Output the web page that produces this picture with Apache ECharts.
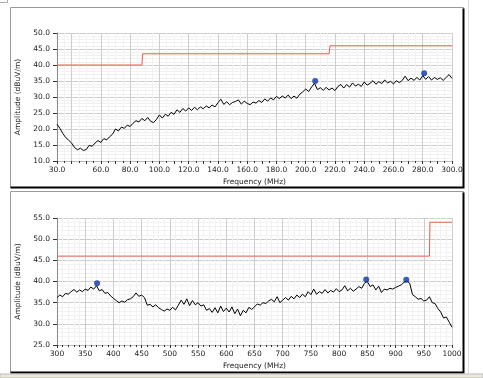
<!DOCTYPE html>
<html>
<head>
<meta charset="utf-8">
<title>Amplitude vs Frequency</title>
<script src="https://cdn.jsdelivr.net/npm/echarts@6/dist/echarts.min.js"></script>
<style>
  html, body { margin: 0; padding: 0; background: #fff; }
  #main { width: 483px; height: 378px; }
</style>
</head>
<body>
<div id="main"></div>
<script>
// sweep grid (MHz) of the two scans
const topStart = 30
const topStep = 2
const bottomStart = 300
const bottomStep = 5

// measured amplitude (dBuV/m), 30 - 300 MHz
const topValues = [
  21.5, 20.2, 18.6, 17.3, 16.5, 15.6, 14.2, 13.5, 14.0, 13.3,
  13.6, 14.9, 14.6, 15.6, 16.4, 15.8, 17.0, 16.6, 17.6, 18.4,
  20.0, 19.4, 20.6, 20.2, 21.2, 20.8, 21.8, 22.6, 22.2, 23.3,
  22.6, 23.6, 22.4, 22.0, 23.0, 24.4, 23.4, 24.6, 24.0, 25.2,
  24.6, 26.0, 25.2, 26.4, 25.6, 26.6, 25.8, 26.8, 26.0, 26.9,
  26.3, 27.2, 26.6, 27.5, 26.9, 28.2, 29.3, 27.7, 28.5, 27.6,
  28.3, 28.6, 29.1, 27.8, 28.7, 28.0, 27.6, 28.4, 28.1, 28.9,
  28.3, 29.4, 28.7, 29.7, 29.1, 30.2, 29.5, 30.3, 29.7, 30.6,
  29.5, 30.3, 29.6, 30.9, 31.6, 32.5, 31.7, 33.1, 34.3, 32.3,
  32.9, 32.1, 33.0, 32.2, 32.8, 32.0, 33.3, 33.9, 32.8, 33.9,
  33.1, 34.4, 33.4, 34.0, 33.3, 34.7, 33.7, 34.3, 35.1, 34.0,
  34.8, 34.2, 35.3, 34.4, 34.9, 34.1, 35.1, 34.5, 35.2, 36.5,
  35.1, 35.9, 35.2, 36.1, 35.3, 36.7, 35.5, 36.4, 35.3, 36.1,
  35.5, 36.0, 35.2, 36.1, 37.0, 35.8
]

// measured amplitude (dBuV/m), 300 - 1000 MHz
const bottomValues = [
  36.2, 36.8, 36.4, 37.2, 37.0, 37.6, 38.1, 37.5, 38.0, 37.6,
  38.2, 37.9, 38.7, 38.2, 39.0, 37.8, 38.1, 37.2, 37.4, 36.6,
  36.0, 35.5, 35.0, 35.4, 35.1, 35.7, 35.9, 36.4, 37.3, 36.5,
  36.8, 36.2, 34.4, 34.6, 34.0, 34.5, 33.8, 33.4, 33.0, 33.5,
  33.2, 33.9, 33.3, 34.4, 35.6, 34.6, 35.9, 34.3, 35.5, 34.5,
  35.0, 34.2, 34.5, 33.2, 33.6, 32.7, 33.8, 32.6, 34.2, 32.9,
  33.7, 32.8, 34.0, 32.4, 33.5, 31.9, 33.2, 32.6, 33.9, 33.4,
  34.0, 34.7, 34.4, 35.0, 34.8, 35.4, 35.8, 35.2, 36.4, 35.0,
  35.6, 36.2, 35.6, 36.5, 35.9, 36.8, 36.2, 37.0, 36.4, 37.6,
  36.9, 38.2, 37.0, 37.6, 37.2, 38.1, 37.3, 37.9, 37.5, 38.3,
  37.6, 38.0, 39.0, 37.8, 38.4, 37.7, 38.2, 38.8, 38.4, 39.6,
  40.0, 38.8, 39.2, 38.0, 38.9, 37.4, 38.2, 38.0, 38.4, 38.2,
  38.6, 38.9, 39.2, 39.8, 40.1, 39.6, 36.9, 36.4, 35.8, 36.0,
  35.4, 35.6, 36.4, 35.0, 34.8, 33.6, 32.8, 31.4, 31.6, 30.4,
  29.2
]

// limit lines [MHz, dBuV/m]
const topLimit = [[30, 40], [88, 40], [88.6, 43.5], [216, 43.5], [216.6, 46], [300, 46]]
const bottomLimit = [[300, 46], [960, 46], [961, 54], [1000, 54]]

// peak markers [MHz, dBuV/m]
const topPeaks = [[206.5, 35.0], [281, 37.4]]
const bottomPeaks = [[371, 39.6], [848, 40.5], [919, 40.4]]

// x tick labels
const topXLabels = [30, 60, 80, 100, 120, 140, 160, 180, 200, 220, 240, 260, 280, 300]
const bottomXLabels = [300, 350, 400, 450, 500, 550, 600, 650, 700, 750, 800, 850, 900, 950, 1000]

const font = 'DejaVu Sans'
const textColor = '#222'
const majorGrid = '#cdcdcd'
const minorGrid = '#f2f2f2'
const limitColor = '#e0604c'
const peakColor = '#0a34a8'

function toPairs(start, step, values) {
  return values.map((v, i) => [start + i * step, v])
}

function xAxisOf(gridIndex, min, max, interval, minorSplit, labels, digits, colors) {
  return {
    type: 'value',
    gridIndex: gridIndex,
    min: min,
    max: max,
    interval: interval,
    name: 'Frequency (MHz)',
    nameLocation: 'middle',
    nameGap: 17,
    nameTextStyle: { fontFamily: font, fontSize: 7.5, color: textColor },
    axisLine: { show: true, lineStyle: { color: '#bbb' } },
    axisTick: { show: true, length: 3, lineStyle: { color: '#333' } },
    minorTick: { show: true, splitNumber: minorSplit, length: 2, lineStyle: { color: '#333' } },
    axisLabel: {
      fontFamily: font, fontSize: 7.5, color: textColor, margin: 5,
      formatter: v => labels.indexOf(v) >= 0 ? v.toFixed(digits) : ''
    },
    splitLine: { show: true, lineStyle: { color: colors } },
    minorSplitLine: { show: true, lineStyle: { color: minorGrid } }
  }
}

function yAxisOf(gridIndex, min, max) {
  return {
    type: 'value',
    gridIndex: gridIndex,
    min: min,
    max: max,
    interval: 5,
    name: 'Amplitude (dBuV/m)',
    nameLocation: 'middle',
    nameGap: 27,
    nameTextStyle: { fontFamily: font, fontSize: 7.5, color: textColor },
    axisLine: { show: true, lineStyle: { color: '#888' } },
    axisTick: { show: true, length: 4, lineStyle: { color: '#333' } },
    minorTick: { show: false },
    axisLabel: { fontFamily: font, fontSize: 7.5, color: textColor, margin: 7, formatter: v => v.toFixed(1) },
    splitLine: { show: true, lineStyle: { color: majorGrid } },
    minorSplitLine: { show: true, lineStyle: { color: minorGrid } }
  }
}

function seriesOf(axisIndex, data, limit, peaks) {
  return [{
    type: 'line',
    xAxisIndex: axisIndex,
    yAxisIndex: axisIndex,
    data: limit,
    showSymbol: false,
    silent: true,
    animation: false,
    lineStyle: { color: limitColor, width: 1 },
    z: 3
  }, {
    type: 'line',
    xAxisIndex: axisIndex,
    yAxisIndex: axisIndex,
    data: data,
    showSymbol: false,
    animation: false,
    lineStyle: { color: '#000', width: 1 },
    z: 4
  }, {
    type: 'scatter',
    xAxisIndex: axisIndex,
    yAxisIndex: axisIndex,
    data: peaks,
    symbol: 'circle',
    symbolSize: 6,
    animation: false,
    itemStyle: { color: peakColor },
    z: 5
  }]
}

// panel frames: grey top/left, thick black bottom/right
function panel(x, y, w, h) {
  return [{
    type: 'rect', shape: { x: x, y: y, width: w, height: h },
    style: { fill: '#fff', stroke: '#9a9a9a', lineWidth: 1 }, z: -10
  }, {
    type: 'polyline', shape: { points: [[x + w, y + 1], [x + w, y + h], [x, y + h]] },
    style: { stroke: '#000', lineWidth: 2, fill: null }, z: -9
  }]
}

const chart = echarts.init(document.getElementById('main'))
chart.setOption({
  backgroundColor: '#fff',
  animation: false,
  graphic: [].concat(
    panel(10.5, 7.5, 453, 180),
    panel(10.5, 191.5, 453, 181),
    [{
      type: 'polyline', shape: { points: [[0, 2.5], [7.5, 2.5], [7.5, 0]] },
      style: { stroke: '#aaa', lineWidth: 1, fill: null }
    }, {
      type: 'line', shape: { x1: 468.5, y1: 0, x2: 468.5, y2: 374 },
      style: { stroke: '#ddd', lineWidth: 1 }
    }, {
      type: 'rect', shape: { x: 0, y: 374, width: 483, height: 4 },
      style: { fill: '#ece9d8', stroke: '#bbb', lineWidth: 1 }
    }]
  ),
  grid: [
    { left: 57, top: 33, width: 395, height: 128 },
    { left: 57, top: 218, width: 395, height: 127 }
  ],
  xAxis: [
    xAxisOf(0, 30, 300, 10, 2, topXLabels, 1, [minorGrid, majorGrid]),
    xAxisOf(1, 300, 1000, 50, 5, bottomXLabels, 0, [majorGrid])
  ],
  yAxis: [
    yAxisOf(0, 10, 50),
    yAxisOf(1, 25, 55)
  ],
  series: [].concat(
    seriesOf(0, toPairs(topStart, topStep, topValues), topLimit, topPeaks),
    seriesOf(1, toPairs(bottomStart, bottomStep, bottomValues), bottomLimit, bottomPeaks)
  )
})
</script>
</body>
</html>
